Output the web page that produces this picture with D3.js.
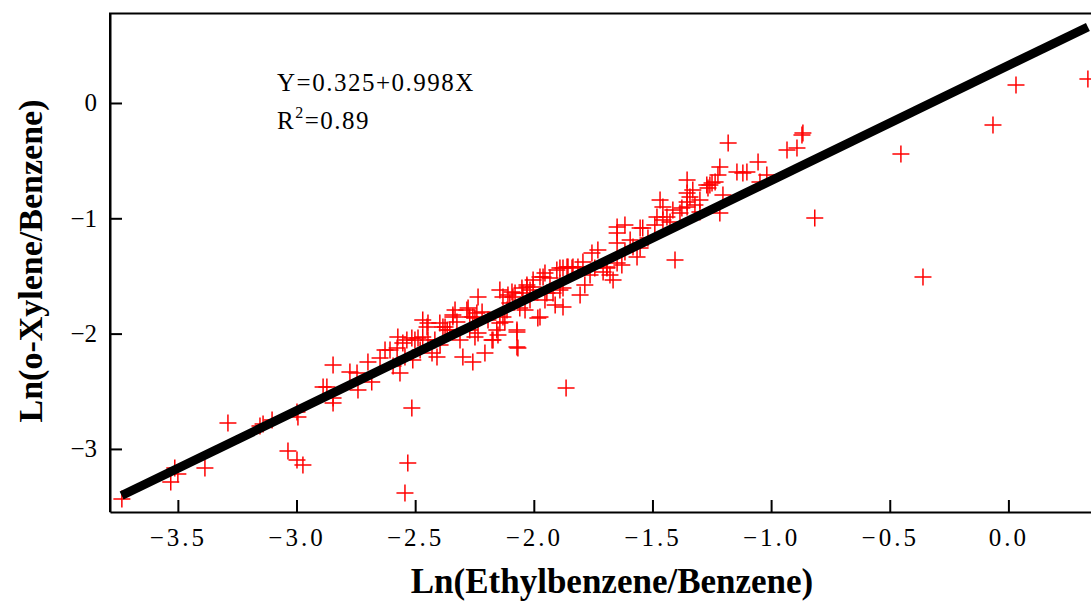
<!DOCTYPE html>
<html>
<head>
<meta charset="utf-8">
<script src="https://cdn.jsdelivr.net/npm/d3@7"></script>
<style>
  body { margin: 0; background: #fff; }
  svg { display: block; }
</style>
</head>
<body>
<div id="chart-1"></div>
<script>
// Ln(Ethylbenzene/Benzene)
const lnEthyl = [
  -3.736, -3.530, -3.513, -3.500, -3.386, -3.289, -3.154, -3.141, -3.103, -2.998,
  -2.994, -3.036, -2.998, -2.973, -2.846, -2.888, -2.872, -2.846, -2.846, -2.775,
  -2.514, -2.531, -2.543, -1.864, -2.071, -2.745, -2.699, -2.741, -2.683, -2.627,
  -2.606, -2.576, -2.564, -2.573, -2.552, -2.535, -2.514, -2.501, -2.488, -2.510,
  -2.446, -2.429, -2.408, -2.383, -2.365, -2.341, -2.324, -2.299, -2.270, -2.257,
  -2.282, -2.235, -2.257, -2.240, -2.218, -2.206, -2.172, -2.156, -2.143, -2.130,
  -2.113, -2.101, -2.088, -2.071, -2.067, -2.059, -2.046, -2.016, -2.003, -1.974,
  -1.974, -1.953, -1.945, -2.071, -1.877, -1.805, -1.785, -1.755, -1.890, -1.860,
  -1.839, -1.961, -1.932, -2.003, -2.029, -1.919, -1.890, -1.679, -1.666, -1.692,
  -1.649, -1.629, -1.649, -1.616, -1.616, -1.552, -1.582, -1.565, -1.468, -1.456,
  -1.439, -1.414, -1.481, -1.456, -1.384, -1.354, -1.354, -1.342, -1.330, -1.405,
  -1.216, -1.258, -1.181, -0.866, -0.933, -0.891, -1.055, -1.216, -1.224, -1.144,
  -1.119, -1.102, -1.018, -1.047, -1.354, -1.271, -1.249, -1.236, -1.266, -1.203,
  -1.376, -1.354, -1.541, -1.552, -0.870, -0.816, -0.453, -0.360, -0.065, 0.032,
  0.335, -2.277, -2.270, -2.248, -2.341, -2.332, -2.396, -2.374, -2.354, -2.468,
  -2.450, -2.468, -2.446, -2.235, -2.248, -2.176, -2.151, -2.143, -2.130, -2.109,
  -2.092, -2.079, -2.050, -2.029, -2.016, -1.983, -1.903, -1.877, -1.856, -1.835,
  -1.890, -1.877, -1.814, -1.793, -1.708, -1.692, -1.649, -1.649, -2.593, -2.543,
  -2.479, -1.730, -1.594, -1.519, -1.490, -1.426, -1.321, -1.300, -1.300, -1.953,
  -1.910, -1.763, -1.743, -2.311, -2.417, -2.648, -2.193, -2.122, -2.037, -2.395
]

// Ln(o-Xylene/Benzene)
const lnXylene = [
  -3.434, -3.287, -3.166, -3.218, -3.166, -2.775, -2.801, -2.784, -2.749, -2.680,
  -2.723, -3.018, -3.096, -3.140, -2.272, -2.463, -2.463, -2.602, -2.559, -2.333,
  -2.645, -3.122, -3.382, -2.472, -2.116, -2.342, -2.246, -2.489, -2.420, -2.142,
  -2.142, -2.125, -2.342, -2.029, -2.082, -2.055, -2.038, -2.055, -2.038, -2.229,
  -1.908, -2.168, -2.203, -1.943, -1.969, -1.839, -1.899, -2.203, -1.969, -2.246,
  -1.795, -1.683, -1.856, -1.821, -1.813, -2.168, -2.055, -1.969, -1.908, -1.856,
  -1.795, -1.735, -1.683, -1.969, -2.125, -1.778, -1.648, -1.622, -1.596, -1.856,
  -1.509, -1.474, -1.648, -1.986, -1.769, -1.665, -1.578, -1.301, -1.431, -1.422,
  -1.431, -1.509, -1.518, -1.535, -1.596, -1.648, -1.622, -1.492, -1.535, -1.422,
  -1.388, -1.405, -1.214, -1.292, -1.058, -1.084, -1.249, -1.336, -0.841, -0.902,
  -0.989, -0.928, -0.989, -1.015, -0.954, -0.902, -0.781, -0.815, -0.755, -1.362,
  -0.954, -0.711, -0.347, -0.260, -0.408, -0.390, -0.512, -0.555, -0.624, -0.598,
  -0.607, -0.598, -0.624, -0.685, -0.668, -0.711, -0.694, -0.685, -0.737, -0.798,
  -0.911, -0.859, -1.084, -1.258, -0.278, -0.997, -0.442, -1.509, -0.191, 0.156,
  0.208, -1.778, -1.856, -1.865, -1.856, -1.795, -1.908, -1.943, -1.969, -1.882,
  -1.943, -2.029, -2.055, -1.995, -2.029, -2.055, -2.012, -1.622, -1.683, -1.665,
  -1.639, -1.648, -1.604, -1.578, -1.709, -1.865, -1.448, -1.431, -1.422, -1.422,
  -1.561, -1.604, -1.422, -1.379, -1.466, -1.431, -1.127, -1.075, -2.281, -2.203,
  -2.142, -1.275, -1.188, -1.171, -1.058, -1.032, -0.885, -0.841, -0.945, -1.709,
  -1.752, -1.492, -1.431, -2.055, -2.055, -2.212, -1.882, -1.899, -1.795, -2.099
]

// fit Y = a + bX, drawn over the span of the data
const fitA = 0.325
const fitB = 0.998
const fitX = [-3.737, 0.335]

const xTicks = [-3.5, -3.0, -2.5, -2.0, -1.5, -1.0, -0.5, 0.0]
const yTicks = [0, -1, -2, -3]

const eqText = 'Y=0.325+0.998X'
const r2Text = '=0.89'

let width = 1091
let height = 602
let margin = { top: 13.5, left: 110, right: -23, bottom: 90 }

let svg = d3
  .select('#chart-1')
  .append('svg')
  .attr('width', width)
  .attr('height', height)

let xScale = d3.scaleLinear()
  .domain([-3.786, 0.445])
  .range([margin.left, width - margin.right])

let yScale = d3.scaleLinear()
  .domain([-3.547, 0.776])
  .range([height - margin.bottom, margin.top])

const tickFont = 'Liberation Serif, Times New Roman, serif'

svg.append('clipPath').attr('id', 'clip')
  .append('rect')
  .attr('x', margin.left)
  .attr('y', margin.top)
  .attr('width', width - margin.right - margin.left)
  .attr('height', height - margin.bottom - margin.top)

// points
let pts = d3.range(lnEthyl.length).map(i => [lnEthyl[i], lnXylene[i]])

svg.append('g')
  .attr('clip-path', 'url(#clip)')
  .selectAll('.pt')
  .data(pts)
  .enter()
  .append('path')
  .attr('class', 'pt')
  .attr('d', d => {
    let x = xScale(d[0]), y = yScale(d[1])
    return `M${x - 8.5},${y}H${x + 8.5}M${x},${y - 8.5}V${y + 8.5}`
  })
  .attr('stroke', '#ff0000')
  .attr('stroke-width', 1.5)
  .attr('fill', 'none')

// regression line
svg.append('line')
  .attr('x1', xScale(fitX[0]))
  .attr('y1', yScale(fitA + fitB * fitX[0]))
  .attr('x2', xScale(fitX[1]))
  .attr('y2', yScale(fitA + fitB * fitX[1]))
  .attr('stroke', '#000')
  .attr('stroke-width', 9)

// axes, ticks pointing inward
let xAxis = d3.axisBottom(xScale)
  .tickValues(xTicks)
  .tickSizeInner(-12)
  .tickSizeOuter(0)
  .tickPadding(16)
  .tickFormat(d3.format('.1f'))

let yAxis = d3.axisLeft(yScale)
  .tickValues(yTicks)
  .tickSizeInner(-12)
  .tickSizeOuter(0)
  .tickPadding(13)
  .tickFormat(d3.format('d'))

let gx = svg.append('g')
  .attr('transform', `translate(0,${height - margin.bottom})`)
  .call(xAxis)

let gy = svg.append('g')
  .attr('transform', `translate(${margin.left},0)`)
  .call(yAxis)

gx.selectAll('text')
  .attr('font-family', tickFont)
  .attr('font-size', 25)
  .attr('letter-spacing', '3px')
  .attr('fill', '#000')

gy.selectAll('text')
  .attr('font-family', tickFont)
  .attr('font-size', 25)
  .attr('fill', '#000')

svg.selectAll('.domain').attr('stroke', '#000').attr('stroke-width', 2)
svg.selectAll('.tick line').attr('stroke', '#000').attr('stroke-width', 2)

// top and left border
svg.append('line')
  .attr('x1', margin.left - 1)
  .attr('x2', width - margin.right)
  .attr('y1', margin.top)
  .attr('y2', margin.top)
  .attr('stroke', '#000')
  .attr('stroke-width', 2)

svg.append('line')
  .attr('x1', margin.left)
  .attr('x2', margin.left)
  .attr('y1', margin.top)
  .attr('y2', height - margin.bottom)
  .attr('stroke', '#000')
  .attr('stroke-width', 2)

// equation
svg.append('text')
  .attr('x', 277)
  .attr('y', 91)
  .attr('font-family', tickFont)
  .attr('font-size', 25)
  .attr('letter-spacing', '1.5px')
  .text(eqText)

let r2 = svg.append('text')
  .attr('x', 277)
  .attr('y', 129)
  .attr('font-family', tickFont)
  .attr('font-size', 25)
  .attr('letter-spacing', '1.5px')
r2.append('tspan').text('R')
r2.append('tspan').attr('font-size', 16).attr('dy', -11).text('2')
r2.append('tspan').attr('dy', 11).text(r2Text)

// axis titles
svg.append('text')
  .attr('x', 612)
  .attr('y', 593)
  .attr('text-anchor', 'middle')
  .attr('font-family', tickFont)
  .attr('font-weight', 'bold')
  .attr('font-size', 35)
  .text('Ln(Ethylbenzene/Benzene)')

svg.append('text')
  .attr('transform', 'translate(42,261) rotate(-90)')
  .attr('text-anchor', 'middle')
  .attr('font-family', tickFont)
  .attr('font-weight', 'bold')
  .attr('font-size', 34)
  .text('Ln(o-Xylene/Benzene)')
</script>
</body>
</html>
